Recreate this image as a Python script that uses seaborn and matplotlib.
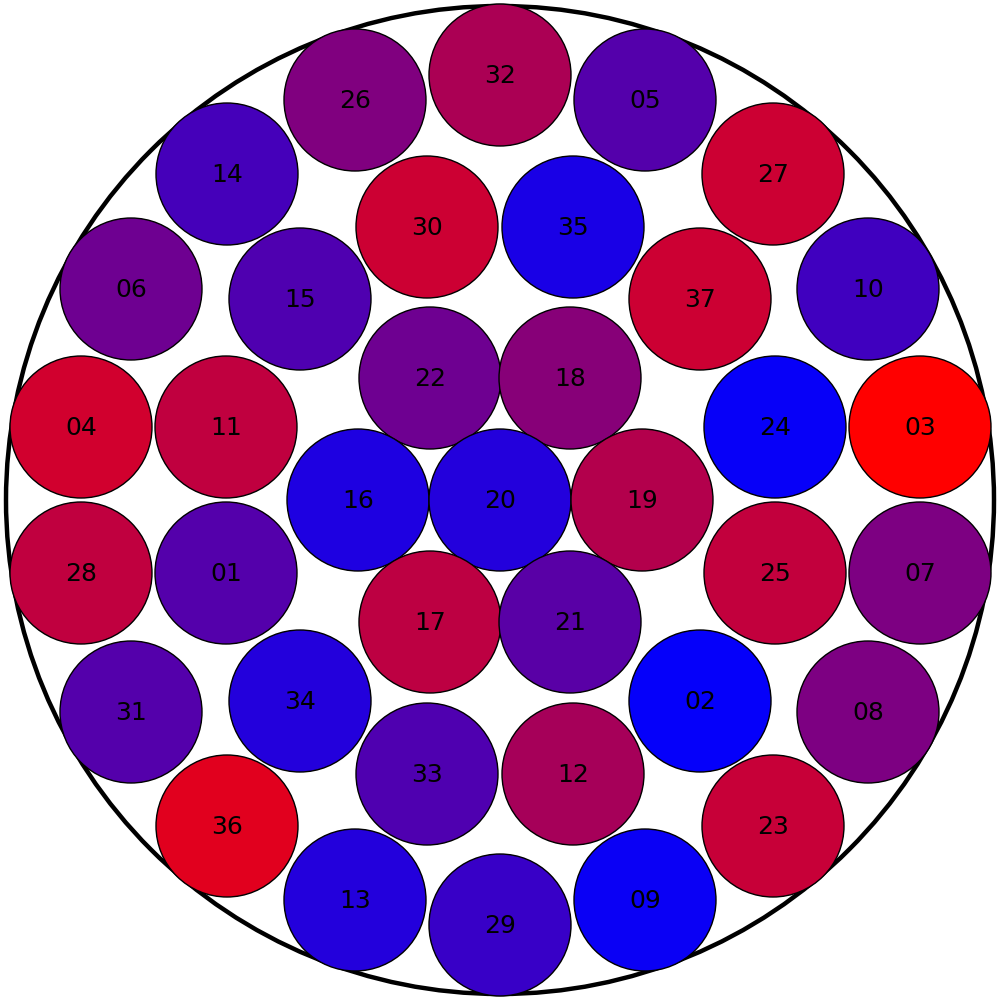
import matplotlib
matplotlib.use("Agg")
import matplotlib.pyplot as plt
from matplotlib.patches import Circle
import seaborn as sns
import numpy as np
import pandas as pd

# circle labels, centres (image coords, y down) and a 0..1 "redness" value
labels = ["26", "32", "05", "14", "30", "35", "27", "06", "15", "37", "10",
          "22", "18", "04", "11", "24", "03", "16", "20", "19", "28", "01",
          "25", "07", "17", "21", "31", "34", "02", "08", "33", "12", "36",
          "23", "13", "29", "09"]
xs = [355, 500, 645, 227, 427, 573, 773, 131, 300, 700, 868,
      430, 570, 81, 226, 775, 920, 358, 500, 642, 81, 226,
      775, 920, 430, 570, 131, 300, 700, 868, 427, 573, 227,
      773, 355, 500, 645]
ys = [100, 75, 100, 174, 227, 227, 174, 289, 299, 299, 289,
      378, 378, 427, 427, 427, 427, 500, 500, 500, 573, 573,
      573, 573, 622, 622, 712, 701, 701, 712, 774, 774, 826,
      826, 900, 925, 900]
values = [0.50, 0.67, 0.33, 0.27, 0.80, 0.10, 0.80, 0.43, 0.31, 0.80, 0.25,
          0.43, 0.53, 0.82, 0.75, 0.03, 1.00, 0.12, 0.14, 0.70, 0.75, 0.33,
          0.76, 0.49, 0.74, 0.35, 0.33, 0.14, 0.02, 0.49, 0.31, 0.65, 0.88,
          0.78, 0.14, 0.22, 0.04]

small_r = 71
outer_r = 494

df = pd.DataFrame({"label": labels, "x": xs, "y": ys, "value": values})

sns.set_theme(style="white")
cmap = sns.blend_palette(["#0000FF", "#FF0000"], as_cmap=True)

fig = plt.figure(figsize=(10, 10), dpi=100)
ax = fig.add_axes([0, 0, 1, 1])
ax.set_xlim(0, 1000)
ax.set_ylim(1000, 0)
ax.set_aspect("equal")
ax.axis("off")

ax.add_patch(Circle((500, 500), outer_r, facecolor="none", edgecolor="black", linewidth=3.2))

for _, row in df.iterrows():
    ax.add_patch(Circle((row["x"], row["y"]), small_r, facecolor=cmap(row["value"]),
                        edgecolor="black", linewidth=1.0))
    ax.text(row["x"], row["y"] + 1, row["label"], ha="center", va="center",
            fontsize=18, color="black", family="DejaVu Sans")

fig.savefig("out.png", dpi=100, facecolor="white")
